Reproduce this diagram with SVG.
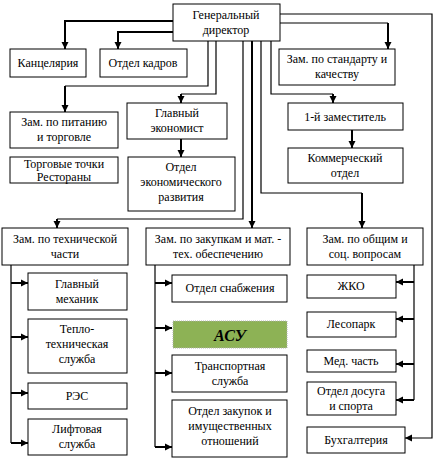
<svg xmlns="http://www.w3.org/2000/svg" width="439" height="463" viewBox="0 0 439 463" font-family="Liberation Serif, DejaVu Serif, serif">
<defs>
<marker id="ah" markerWidth="8" markerHeight="8" refX="7" refY="4" orient="auto" markerUnits="userSpaceOnUse">
<path d="M0,0.5 L7,4 L0,7.5 Z" fill="#000"/>
</marker>
<style>
.b{fill:#fff;stroke:#000;stroke-width:1}
.t{font-size:12px;fill:#000;text-anchor:middle}
.c{fill:none;stroke:#000;stroke-width:1.2}
.k{fill:none;stroke:#000;stroke-width:2}
</style>
</defs>
<rect width="439" height="463" fill="#fff"/>
<g id="connectors">
<path class="k" d="M173,21 H65 V49" marker-end="url(#ah)"/>
<path class="k" d="M173,32 H118 V49" marker-end="url(#ah)"/>
<path class="c" d="M280,14 H432 V438 H405" marker-end="url(#ah)"/>
<path class="c" d="M280,23 H388"/><path class="k" d="M388,23 V49" marker-end="url(#ah)"/>
<path class="c" d="M208,41 V86 H65"/><path class="k" d="M65,86 V112" marker-end="url(#ah)"/>
<path class="c" d="M216,41 V94 H181"/><path class="k" d="M181,94 V103" marker-end="url(#ah)"/>
<path class="k" d="M181,139 V157" marker-end="url(#ah)"/>
<path class="c" d="M243,41 V219 H57"/><path class="k" d="M57,219 V228" marker-end="url(#ah)"/>
<path class="k" d="M252,41 V228" marker-end="url(#ah)"/>
<path class="c" d="M261,41 V193 H362"/><path class="k" d="M362,193 V228" marker-end="url(#ah)"/>
<path class="c" d="M271,41 V94 H333"/><path class="k" d="M333,94 V103" marker-end="url(#ah)"/>
<path class="k" d="M352,130 V148" marker-end="url(#ah)"/>
<path class="c" d="M11,265 V443"/>
<path class="k" d="M11,283 H28" marker-end="url(#ah)"/>
<path class="k" d="M11,337 H28" marker-end="url(#ah)"/>
<path class="k" d="M11,393 H28" marker-end="url(#ah)"/>
<path class="k" d="M11,443 H28" marker-end="url(#ah)"/>
<path class="c" d="M155,265 V447"/>
<path class="k" d="M155,283 H172" marker-end="url(#ah)"/>
<path class="k" d="M155,328 H172" marker-end="url(#ah)"/>
<path class="k" d="M155,373 H172" marker-end="url(#ah)"/>
<path class="k" d="M155,447 H172" marker-end="url(#ah)"/>
<path class="c" d="M414,265 V400"/>
<path class="k" d="M414,282 H396" marker-end="url(#ah)"/>
<path class="k" d="M414,319 H396" marker-end="url(#ah)"/>
<path class="k" d="M414,364 H396" marker-end="url(#ah)"/>
<path class="k" d="M414,400 H396" marker-end="url(#ah)"/>
</g>
<g id="director"><rect class="b" x="173" y="4" width="107" height="37"/><text class="t" x="226" y="19">Генеральный</text><text class="t" x="226" y="34">директор</text></g>
<g id="kanc"><rect class="b" x="10" y="49" width="76" height="28"/><text class="t" x="48" y="67">Канцелярия</text></g>
<g id="kadry"><rect class="b" x="100" y="49" width="87" height="28"/><text class="t" x="143" y="67">Отдел кадров</text></g>
<g id="standart"><rect class="b" x="279" y="49" width="116" height="36"/><text class="t" x="337" y="63">Зам. по стандарту и</text><text class="t" x="337" y="78">качеству</text></g>
<g id="pitanie"><rect class="b" x="10" y="112" width="108" height="36"/><text class="t" x="64" y="126">Зам. по питанию</text><text class="t" x="64" y="141">и торговле</text></g>
<g id="torg"><rect class="b" x="10" y="157" width="108" height="26"/><text class="t" x="64" y="168">Торговые точки</text><text class="t" x="64" y="181">Рестораны</text></g>
<g id="econ"><rect class="b" x="127" y="103" width="100" height="36"/><text class="t" x="177" y="117">Главный</text><text class="t" x="177" y="132">экономист</text></g>
<g id="econdev"><rect class="b" x="128" y="157" width="107" height="54"/><text class="t" x="181" y="171">Отдел</text><text class="t" x="181" y="186">экономического</text><text class="t" x="181" y="201">развития</text></g>
<g id="first"><rect class="b" x="288" y="103" width="115" height="27"/><text class="t" x="345" y="121">1-й заместитель</text></g>
<g id="kommerc"><rect class="b" x="288" y="148" width="115" height="35"/><text class="t" x="345" y="162">Коммерческий</text><text class="t" x="345" y="177">отдел</text></g>
<g id="tech"><rect class="b" x="2" y="228" width="126" height="37"/><text class="t" x="65" y="243">Зам. по технической</text><text class="t" x="65" y="258">части</text></g>
<g id="mech"><rect class="b" x="28" y="273" width="99" height="37"/><text class="t" x="77" y="288">Главный</text><text class="t" x="77" y="303">механик</text></g>
<g id="teplo"><rect class="b" x="28" y="319" width="99" height="54"/><text class="t" x="77" y="333">Тепло-</text><text class="t" x="77" y="348">техническая</text><text class="t" x="77" y="363">служба</text></g>
<g id="res"><rect class="b" x="28" y="383" width="99" height="26"/><text class="t" x="77" y="400">РЭС</text></g>
<g id="lift"><rect class="b" x="28" y="419" width="99" height="36"/><text class="t" x="77" y="433">Лифтовая</text><text class="t" x="77" y="448">служба</text></g>
<g id="zakup"><rect class="b" x="146" y="228" width="144" height="37"/><text class="t" x="218" y="243">Зам. по закупкам и мат. -</text><text class="t" x="218" y="258">тех. обеспечению</text></g>
<g id="snab"><rect class="b" x="172" y="275" width="115" height="27"/><text class="t" x="230" y="292">Отдел снабжения</text></g>
<g id="asu"><rect x="173" y="321" width="114" height="27" fill="#8db255" stroke="#b0b0b0" stroke-width="1" stroke-dasharray="1,1"/><text class="t" x="230" y="341" font-size="16" font-weight="bold" font-style="italic" style="font-size:16px">АСУ</text></g>
<g id="transport"><rect class="b" x="172" y="355" width="115" height="37"/><text class="t" x="230" y="370">Транспортная</text><text class="t" x="230" y="385">служба</text></g>
<g id="imush"><rect class="b" x="172" y="400" width="115" height="57"/><text class="t" x="230" y="415">Отдел закупок и</text><text class="t" x="230" y="430">имущественных</text><text class="t" x="230" y="445">отношений</text></g>
<g id="obsh"><rect class="b" x="307" y="228" width="116" height="37"/><text class="t" x="365" y="243">Зам. по общим и</text><text class="t" x="365" y="258">соц. вопросам</text></g>
<g id="zhko"><rect class="b" x="307" y="275" width="89" height="23"/><text class="t" x="351" y="290">ЖКО</text></g>
<g id="lesopark"><rect class="b" x="307" y="312" width="89" height="25"/><text class="t" x="351" y="328">Лесопарк</text></g>
<g id="med"><rect class="b" x="307" y="350" width="89" height="22"/><text class="t" x="351" y="365">Мед. часть</text></g>
<g id="dosug"><rect class="b" x="307" y="382" width="89" height="33"/><text class="t" x="351" y="395">Отдел досуга</text><text class="t" x="351" y="410">и спорта</text></g>
<g id="buh"><rect class="b" x="307" y="427" width="98" height="26"/><text class="t" x="356" y="444">Бухгалтерия</text></g>
</svg>
